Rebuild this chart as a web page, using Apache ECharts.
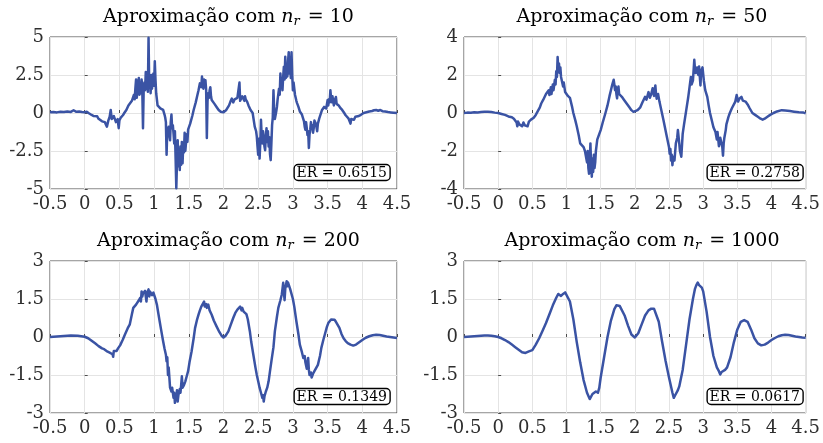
<!DOCTYPE html>
<html>
<head>
<meta charset="utf-8">
<title>Aproximação com n_r</title>
<script src="https://cdn.jsdelivr.net/npm/echarts@6/dist/echarts.min.js"></script>
<style>
  html, body { margin: 0; padding: 0; background: #fff; }
  #chart { width: 823px; height: 443px; }
</style>
</head>
<body>
<div id="chart"></div>
<script>
// Shared x ticks (time axis of every panel)
const xTicks = [-0.5, 0, 0.5, 1, 1.5, 2, 2.5, 3, 3.5, 4, 4.5];

// Panel settings: number of terms, relative error, y ticks
const panelNr = [10, 50, 200, 1000];
const panelER = ['0.6515', '0.2758', '0.1349', '0.0617'];
const yTicks10 = [-5, -2.5, 0, 2.5, 5];
const yTicks50 = [-4, -2, 0, 2, 4];
const yTicks200 = [-3, -1.5, 0, 1.5, 3];
const yTicks1000 = [-3, -1.5, 0, 1.5, 3];

// Approximated signal, n_r = 10  ([t, value])
const approx10 = [
  [-0.5,0.05],[-0.45,0.07],[-0.4,0.04],[-0.35,0.08],[-0.3,0.06],[-0.25,0.1],[-0.2,0.07],[-0.16,0.18],[-0.12,0.08],[-0.08,0.1],
  [-0.04,0.06],[0,0.05],[0.03,0.08],[0.06,-0.02],[0.1,-0.13],[0.13,-0.2],[0.15,-0.3],[0.18,-0.22],[0.2,-0.38],[0.22,-0.3],
  [0.25,-0.55],[0.27,-0.45],[0.29,-0.6],[0.31,-0.5],[0.32,-0.9],[0.34,-0.5],[0.36,-0.25],[0.375,0.2],[0.39,-0.4],[0.4,-0.5],
  [0.42,-0.2],[0.44,-0.15],[0.45,-0.6],[0.46,-0.55],[0.475,-0.4],[0.49,-1.0],[0.5,-0.5],[0.52,-0.3],[0.55,-0.15],[0.57,0],
  [0.6,0.2],[0.63,0.5],[0.65,0.55],[0.68,0.8],[0.7,0.9],[0.71,1.2],[0.72,0.9],[0.73,1.6],[0.74,2.2],[0.75,1.0],
  [0.76,1.4],[0.77,2.0],[0.78,2.3],[0.79,1.2],[0.8,1.9],[0.81,1.3],[0.82,2.2],[0.83,1.5],[0.84,-1.0],[0.85,1.6],
  [0.86,2.0],[0.87,1.5],[0.88,2.7],[0.89,1.6],[0.9,2.1],[0.91,1.4],[0.92,4.95],[0.93,1.8],[0.94,2.2],[0.95,1.3],
  [0.96,2.5],[0.97,1.6],[0.98,2.3],[0.99,2.6],[1.0,1.8],[1.01,3.4],[1.02,2.2],[1.03,1.3],[1.05,0.5],[1.07,0.4],
  [1.09,0.3],[1.11,0.25],[1.13,0.2],[1.15,-0.1],[1.16,-0.3],[1.17,-0.6],[1.18,-2.75],[1.19,-1.0],[1.2,-1.3],[1.21,-0.9],
  [1.22,-1.5],[1.23,-1.8],[1.24,-0.6],[1.25,-0.1],[1.26,-1.0],[1.27,-0.8],[1.28,-1.35],[1.29,-2.0],[1.3,-1.2],[1.31,-3.0],
  [1.32,-4.95],[1.33,-3.2],[1.34,-1.8],[1.35,-3.5],[1.36,-2.4],[1.37,-3.75],[1.38,-2.2],[1.39,-3.4],[1.4,-1.9],[1.41,-3.3],
  [1.42,-2.1],[1.43,-2.6],[1.44,-1.3],[1.45,-2.5],[1.46,-2.4],[1.47,-1.4],[1.48,-1.9],[1.49,-1.1],[1.5,-1.2],[1.52,-0.7],
  [1.55,-0.2],[1.57,0.2],[1.6,0.7],[1.62,1.1],[1.64,1.5],[1.66,1.95],[1.68,1.7],[1.69,2.4],[1.7,1.9],[1.71,1.6],
  [1.72,2.2],[1.73,1.8],[1.74,2.15],[1.75,1.5],[1.76,-1.65],[1.77,0.8],[1.78,1.3],[1.79,1.0],[1.8,1.5],[1.81,1.7],
  [1.82,1.1],[1.83,0.85],[1.85,0.95],[1.87,0.6],[1.9,0.4],[1.93,0.2],[1.96,0.08],[2.0,0.05],[2.04,0.2],[2.08,0.5],
  [2.1,0.75],[2.12,0.95],[2.14,0.7],[2.16,0.9],[2.18,0.85],[2.2,1.0],[2.22,0.9],[2.23,2.0],[2.24,0.8],[2.25,0.75],
  [2.27,1.1],[2.29,1.2],[2.3,0.8],[2.31,1.1],[2.32,0.9],[2.34,0.75],[2.36,0.5],[2.39,0.2],[2.42,0],[2.45,-0.9],
  [2.47,-1.2],[2.48,-1.55],[2.49,-2.2],[2.5,-2.75],[2.51,-1.7],[2.52,-3.0],[2.53,-2.0],[2.54,-0.45],[2.55,-1.5],[2.56,-2.0],
  [2.57,-1.2],[2.58,-1.7],[2.59,-2.2],[2.6,-2.45],[2.61,-1.5],[2.62,-1.0],[2.63,-1.9],[2.64,-1.2],[2.65,-2.2],[2.66,-1.6],
  [2.67,-2.7],[2.68,-3.1],[2.69,-2.0],[2.7,-0.8],[2.71,-0.3],[2.72,1.5],[2.73,0.2],[2.74,-0.4],[2.76,0.1],[2.77,0.4],
  [2.78,0.9],[2.8,1.6],[2.81,1.2],[2.82,2.6],[2.83,1.8],[2.84,2.2],[2.85,1.5],[2.86,2.4],[2.87,3.05],[2.88,2.2],
  [2.89,3.7],[2.9,2.3],[2.91,3.2],[2.92,2.4],[2.93,3.4],[2.94,4.0],[2.95,2.6],[2.96,3.1],[2.97,2.3],[2.98,4.0],
  [2.99,2.5],[3.0,1.5],[3.01,2.0],[3.03,1.2],[3.05,0.8],[3.06,0.65],[3.08,0.4],[3.1,0.1],[3.13,-0.1],[3.15,-0.4],
  [3.16,-0.55],[3.17,-0.9],[3.18,-1.1],[3.19,-0.6],[3.2,-1.0],[3.21,-1.45],[3.22,-1.2],[3.23,-2.3],[3.24,-1.4],[3.25,-1.1],
  [3.26,-0.6],[3.27,-1.0],[3.28,-0.8],[3.29,-1.3],[3.3,-1.0],[3.31,-0.5],[3.33,-0.7],[3.35,-1.2],[3.36,-0.7],[3.38,-0.35],
  [3.4,-0.45],[3.42,0.2],[3.45,0.4],[3.47,0.5],[3.48,0.3],[3.5,0.85],[3.51,0.5],[3.52,0.9],[3.53,0.7],[3.54,1.5],
  [3.55,1.0],[3.56,0.7],[3.57,1.1],[3.58,0.8],[3.59,0.5],[3.6,0.8],[3.62,1.05],[3.63,0.6],[3.64,0.7],[3.66,0.5],
  [3.68,0.35],[3.71,0.2],[3.74,0],[3.76,-0.15],[3.78,-0.2],[3.8,-0.35],[3.81,-0.3],[3.83,-0.7],[3.84,-0.4],[3.86,-0.3],
  [3.88,-0.45],[3.9,-0.25],[3.92,-0.35],[3.95,-0.2],[3.98,-0.12],[4.02,0],[4.06,0.05],[4.1,0.1],[4.14,0.13],[4.17,0.18],
  [4.2,0.2],[4.23,0.15],[4.26,0.2],[4.29,0.12],[4.33,0.1],[4.37,0.06],[4.41,0.04],[4.45,0.02],[4.5,0]
];

// Approximated signal, n_r = 50
const approx50 = [
  [-0.5,0],[-0.45,0.02],[-0.4,0.01],[-0.35,0.04],[-0.3,0.03],[-0.25,0.05],[-0.2,0.07],[-0.15,0.06],[-0.1,0.05],[-0.05,0.02],
  [0,0],[0.05,-0.05],[0.1,-0.1],[0.15,-0.18],[0.2,-0.22],[0.23,-0.3],[0.25,-0.35],[0.27,-0.5],[0.28,-0.7],[0.29,-0.45],
  [0.31,-0.6],[0.33,-0.55],[0.35,-0.7],[0.37,-0.5],[0.39,-0.65],[0.41,-0.55],[0.43,-0.7],[0.45,-0.45],[0.48,-0.35],[0.52,-0.25],
  [0.55,-0.1],[0.58,0.1],[0.61,0.3],[0.63,0.5],[0.66,0.7],[0.68,0.8],[0.7,1.0],[0.72,0.9],[0.74,1.2],[0.75,0.95],
  [0.77,1.35],[0.78,1.0],[0.8,1.5],[0.81,1.2],[0.83,1.75],[0.84,1.5],[0.85,2.2],[0.86,1.9],[0.87,2.95],[0.88,2.3],
  [0.89,2.6],[0.9,2.1],[0.91,2.4],[0.92,1.9],[0.93,2.0],[0.95,1.4],[0.96,1.6],[0.98,1.1],[1.0,1.0],[1.02,0.9],
  [1.05,0.8],[1.08,0.35],[1.1,0],[1.13,-0.4],[1.15,-0.7],[1.18,-1.2],[1.2,-1.6],[1.22,-1.5],[1.25,-1.8],[1.27,-2.0],
  [1.29,-1.9],[1.3,-2.6],[1.31,-2.0],[1.32,-2.9],[1.33,-3.2],[1.34,-2.5],[1.35,-1.6],[1.36,-2.8],[1.37,-3.35],[1.38,-2.4],
  [1.39,-3.1],[1.4,-2.2],[1.41,-2.9],[1.42,-2.6],[1.43,-2.0],[1.45,-1.4],[1.48,-1.1],[1.5,-0.9],[1.53,-0.5],[1.57,0],
  [1.6,0.4],[1.63,0.9],[1.65,1.2],[1.67,1.5],[1.69,1.75],[1.7,1.5],[1.71,1.2],[1.72,1.4],[1.73,1.0],[1.74,0.77],
  [1.75,1.2],[1.76,1.4],[1.77,1.0],[1.79,1.1],[1.81,0.85],[1.84,0.7],[1.88,0.5],[1.92,0.3],[1.95,0.15],[1.98,0.06],
  [2.0,0.05],[2.04,0.15],[2.08,0.3],[2.11,0.55],[2.15,0.85],[2.17,0.7],[2.2,1.1],[2.22,0.8],[2.24,1.0],[2.26,1.3],
  [2.28,0.9],[2.3,1.45],[2.31,1.0],[2.32,0.75],[2.34,1.0],[2.36,0.6],[2.39,0.1],[2.42,-0.4],[2.44,-0.75],[2.46,-1.1],
  [2.48,-1.0],[2.5,-1.8],[2.51,-2.15],[2.52,-1.9],[2.53,-2.5],[2.54,-2.2],[2.55,-2.75],[2.56,-2.3],[2.58,-2.5],[2.6,-1.6],
  [2.62,-1.3],[2.63,-0.9],[2.65,-1.6],[2.66,-2.0],[2.68,-2.3],[2.7,-1.1],[2.72,-0.6],[2.75,0.1],[2.78,0.8],[2.8,1.35],
  [2.82,1.9],[2.83,1.5],[2.85,1.7],[2.87,2.8],[2.88,2.3],[2.89,2.1],[2.91,2.4],[2.93,2.0],[2.94,2.45],[2.96,1.45],
  [2.97,2.2],[2.99,2.4],[3.01,1.7],[3.03,1.2],[3.06,0.85],[3.08,0.4],[3.1,0],[3.13,-0.45],[3.15,-0.75],[3.18,-1.0],
  [3.2,-1.4],[3.21,-1.0],[3.23,-1.75],[3.25,-1.3],[3.26,-1.2],[3.28,-1.8],[3.29,-2.25],[3.3,-1.6],[3.31,-1.3],[3.33,-0.9],
  [3.34,-0.6],[3.37,-0.2],[3.39,0],[3.42,0.25],[3.44,0.35],[3.47,0.6],[3.49,0.95],[3.51,0.6],[3.53,0.75],[3.55,0.7],
  [3.56,0.85],[3.58,0.65],[3.6,0.7],[3.62,0.6],[3.65,0.45],[3.68,0.25],[3.72,0],[3.76,-0.1],[3.8,-0.2],[3.84,-0.3],
  [3.87,-0.35],[3.9,-0.3],[3.94,-0.2],[3.98,-0.1],[4.03,0],[4.08,0.08],[4.15,0.15],[4.2,0.13],[4.27,0.1],[4.33,0.07],
  [4.4,0.04],[4.46,0.03],[4.5,-0.02]
];

// Approximated signal, n_r = 200
const approx200 = [
  [-0.5,0],[-0.4,0.02],[-0.3,0.04],[-0.2,0.06],[-0.1,0.05],[0,0.01],[0.05,-0.05],[0.1,-0.15],[0.15,-0.25],[0.2,-0.36],
  [0.25,-0.45],[0.28,-0.48],[0.3,-0.55],[0.33,-0.58],[0.36,-0.62],[0.38,-0.6],[0.4,-0.68],[0.41,-0.78],[0.42,-0.55],[0.44,-0.5],
  [0.46,-0.55],[0.48,-0.45],[0.51,-0.33],[0.55,-0.1],[0.58,0.1],[0.62,0.35],[0.65,0.5],[0.68,0.9],[0.7,1.15],[0.72,1.1],
  [0.74,1.28],[0.76,1.25],[0.78,1.45],[0.8,1.55],[0.81,1.4],[0.82,1.8],[0.83,1.6],[0.84,1.72],[0.86,1.65],[0.87,1.82],
  [0.88,1.6],[0.89,1.4],[0.9,1.75],[0.92,1.88],[0.93,1.6],[0.94,1.8],[0.96,1.85],[0.97,1.65],[0.99,1.75],[1.02,1.5],
  [1.04,1.28],[1.06,0.95],[1.08,0.62],[1.1,0.3],[1.13,-0.17],[1.15,-0.45],[1.17,-0.7],[1.18,-0.96],[1.19,-0.8],[1.2,-1.5],
  [1.21,-1.2],[1.23,-2.0],[1.25,-2.15],[1.26,-2.0],[1.28,-2.4],[1.29,-2.2],[1.3,-2.6],[1.31,-2.3],[1.32,-2.4],[1.33,-2.1],
  [1.34,-2.55],[1.35,-2.3],[1.37,-2.05],[1.38,-2.2],[1.39,-1.9],[1.4,-1.55],[1.41,-2.0],[1.43,-1.9],[1.45,-1.75],[1.47,-1.55],
  [1.49,-1.35],[1.51,-1.0],[1.54,-0.57],[1.57,-0.05],[1.59,0.35],[1.62,0.7],[1.64,0.88],[1.66,1.05],[1.68,1.2],[1.7,1.25],
  [1.72,1.4],[1.73,1.2],[1.75,1.3],[1.76,1.15],[1.78,1.28],[1.8,1.05],[1.83,0.88],[1.86,0.65],[1.9,0.42],[1.94,0.2],
  [1.97,0.06],[2.0,-0.02],[2.03,0.05],[2.07,0.22],[2.1,0.45],[2.14,0.75],[2.17,0.95],[2.2,1.08],[2.22,1.12],[2.24,1.2],
  [2.26,1.05],[2.27,1.15],[2.29,1.0],[2.31,1.05],[2.33,0.9],[2.35,0.7],[2.38,0.22],[2.4,-0.2],[2.43,-0.7],[2.46,-1.2],
  [2.48,-1.5],[2.5,-1.75],[2.52,-2.0],[2.54,-2.2],[2.56,-2.4],[2.57,-2.3],[2.58,-2.55],[2.59,-2.35],[2.61,-2.15],[2.63,-2.0],
  [2.65,-1.75],[2.67,-1.35],[2.69,-0.96],[2.72,-0.4],[2.74,0.22],[2.77,0.8],[2.79,1.15],[2.82,1.45],[2.84,1.68],[2.85,1.9],
  [2.86,2.14],[2.87,1.8],[2.88,1.45],[2.89,1.9],[2.91,2.2],[2.92,2.0],[2.93,2.15],[2.95,2.1],[2.96,1.9],[2.98,1.95],
  [3.0,1.5],[3.02,1.2],[3.05,0.62],[3.08,0.1],[3.1,-0.3],[3.13,-0.6],[3.15,-0.83],[3.17,-0.75],[3.18,-1.0],[3.2,-1.25],
  [3.21,-1.0],[3.22,-0.83],[3.23,-1.3],[3.24,-1.5],[3.26,-1.4],[3.27,-1.6],[3.29,-1.45],[3.31,-1.35],[3.33,-1.3],[3.36,-1.1],
  [3.39,-0.75],[3.41,-0.43],[3.44,-0.1],[3.46,0.1],[3.49,0.4],[3.51,0.55],[3.53,0.62],[3.55,0.69],[3.57,0.65],[3.6,0.68],
  [3.62,0.6],[3.64,0.55],[3.67,0.36],[3.7,0.12],[3.73,-0.05],[3.76,-0.16],[3.79,-0.24],[3.83,-0.3],[3.87,-0.34],[3.91,-0.3],
  [3.95,-0.22],[4.0,-0.12],[4.05,-0.03],[4.1,0.03],[4.15,0.07],[4.2,0.09],[4.25,0.08],[4.3,0.05],[4.35,0.02],[4.4,0],
  [4.45,-0.02],[4.5,-0.04]
];

// Approximated signal, n_r = 1000
const approx1000 = [
  [-0.5,0],[-0.45,0.01],[-0.4,0.02],[-0.35,0.03],[-0.3,0.04],[-0.25,0.05],[-0.2,0.06],[-0.15,0.06],[-0.1,0.05],[-0.05,0.03],
  [0,0],[0.05,-0.05],[0.1,-0.12],[0.15,-0.2],[0.2,-0.3],[0.25,-0.4],[0.3,-0.5],[0.35,-0.6],[0.4,-0.63],[0.45,-0.57],
  [0.5,-0.52],[0.55,-0.3],[0.6,-0.05],[0.65,0.25],[0.7,0.55],[0.75,0.9],[0.8,1.25],[0.85,1.55],[0.88,1.7],[0.9,1.74],
  [0.92,1.62],[0.95,1.7],[0.98,1.76],[1.0,1.72],[1.05,1.4],[1.1,0.7],[1.15,-0.2],[1.2,-1.0],[1.25,-1.7],[1.3,-2.2],
  [1.34,-2.45],[1.36,-2.5],[1.38,-2.25],[1.4,-2.3],[1.43,-2.15],[1.46,-2.2],[1.48,-2.0],[1.5,-1.6],[1.55,-0.8],[1.6,0],
  [1.65,0.65],[1.7,1.1],[1.73,1.25],[1.75,1.2],[1.78,1.22],[1.8,1.15],[1.85,0.85],[1.9,0.45],[1.95,0.1],[2.0,-0.02],
  [2.05,0.15],[2.1,0.5],[2.15,0.85],[2.2,1.05],[2.24,1.12],[2.26,1.05],[2.28,1.12],[2.3,1.05],[2.35,0.6],[2.4,-0.2],
  [2.45,-0.95],[2.5,-1.6],[2.55,-2.2],[2.57,-2.4],[2.59,-2.3],[2.61,-2.35],[2.63,-2.1],[2.65,-1.95],[2.7,-1.3],[2.75,-0.3],
  [2.8,0.7],[2.85,1.5],[2.88,1.9],[2.9,2.05],[2.92,2.15],[2.94,2.05],[2.96,2.1],[2.98,1.95],[3.0,1.8],[3.05,1.0],
  [3.1,0],[3.15,-0.75],[3.2,-1.2],[3.23,-1.35],[3.25,-1.48],[3.27,-1.38],[3.29,-1.45],[3.32,-1.3],[3.35,-1.2],[3.4,-0.8],
  [3.45,-0.2],[3.5,0.3],[3.55,0.6],[3.6,0.67],[3.65,0.6],[3.7,0.3],[3.75,-0.05],[3.8,-0.25],[3.85,-0.33],[3.9,-0.3],
  [3.95,-0.22],[4.0,-0.12],[4.05,-0.04],[4.1,0.03],[4.15,0.07],[4.2,0.09],[4.25,0.08],[4.3,0.05],[4.35,0.02],[4.4,0],
  [4.45,-0.02],[4.5,-0.03]
];

const seriesData = [approx10, approx50, approx200, approx1000];
const yTickSets = [yTicks10, yTicks50, yTicks200, yTicks1000];

const SERIF = "'DejaVu Serif', 'Liberation Serif', serif";
const LINE_BLUE = '#3a53a4';
const LABEL_GRAY = '#2e2e2e';

// Panel placement (2 x 2)
const grids = [
  { left: 50,  top: 37,  width: 347, height: 152 },
  { left: 464, top: 37,  width: 346, height: 152 },
  { left: 50,  top: 261, width: 347, height: 152 },
  { left: 464, top: 261, width: 346, height: 152 }
];

const chart = echarts.init(document.getElementById('chart'), null, { renderer: 'canvas' });

const option = {
  backgroundColor: '#ffffff',
  animation: false,
  title: [],
  grid: grids.map(g => Object.assign({
    show: true, borderColor: '#4d4d4d', borderWidth: 1, backgroundColor: '#ffffff', containLabel: false
  }, g)),
  xAxis: [],
  yAxis: [],
  series: []
};

const tickStyle = { show: true, inside: true, length: 3, lineStyle: { color: '#4d4d4d', width: 1 } };

grids.forEach((g, i) => {
  const yt = yTickSets[i];
  // panel heading with italic n and subscript r
  option.title.push({
    text: 'Aproximação com {it|n}{sub|r} = ' + panelNr[i],
    left: g.left + g.width / 2,
    textAlign: 'center',
    top: g.top - 35,
    textStyle: {
      fontFamily: SERIF, fontSize: 19, fontWeight: 'normal', color: '#000',
      rich: {
        it: { fontFamily: SERIF, fontSize: 19, fontStyle: 'italic', color: '#000' },
        sub: { fontFamily: SERIF, fontSize: 13, fontStyle: 'italic', color: '#000', padding: [8, 2, 0, 0] }
      }
    }
  });
  // error box in the lower right corner of each panel
  option.title.push({
    text: 'ER = ' + panelER[i],
    right: 823 - (g.left + g.width) + 7,
    bottom: 443 - (g.top + g.height) + 8,
    backgroundColor: '#ffffff',
    borderColor: '#000000',
    borderWidth: 1.4,
    borderRadius: 4,
    padding: [1, 3, 0, 3],
    textStyle: { fontFamily: SERIF, fontSize: 14, fontWeight: 'normal', color: '#000', lineHeight: 16 }
  });
  option.xAxis.push({
    type: 'value', gridIndex: i,
    min: xTicks[0], max: xTicks[xTicks.length - 1], interval: xTicks[1] - xTicks[0],
    axisLine: { show: false },
    axisTick: tickStyle,
    splitLine: { show: true, lineStyle: { color: '#e4e4e4', width: 1 } },
    axisLabel: { fontFamily: SERIF, fontSize: 18, color: LABEL_GRAY, margin: 6 }
  });
  option.yAxis.push({
    type: 'value', gridIndex: i,
    min: yt[0], max: yt[yt.length - 1], interval: yt[1] - yt[0],
    axisLine: { show: false },
    axisTick: tickStyle,
    splitLine: { show: true, lineStyle: { color: '#e4e4e4', width: 1 } },
    axisLabel: { fontFamily: SERIF, fontSize: 18, color: LABEL_GRAY, margin: 6 }
  });
  option.series.push({
    type: 'line', xAxisIndex: i, yAxisIndex: i,
    data: seriesData[i],
    showSymbol: false, symbol: 'none',
    clip: true,
    lineStyle: { color: LINE_BLUE, width: 2.5, join: 'round' },
    z: 3
  });
});

chart.setOption(option);
</script>
</body>
</html>
